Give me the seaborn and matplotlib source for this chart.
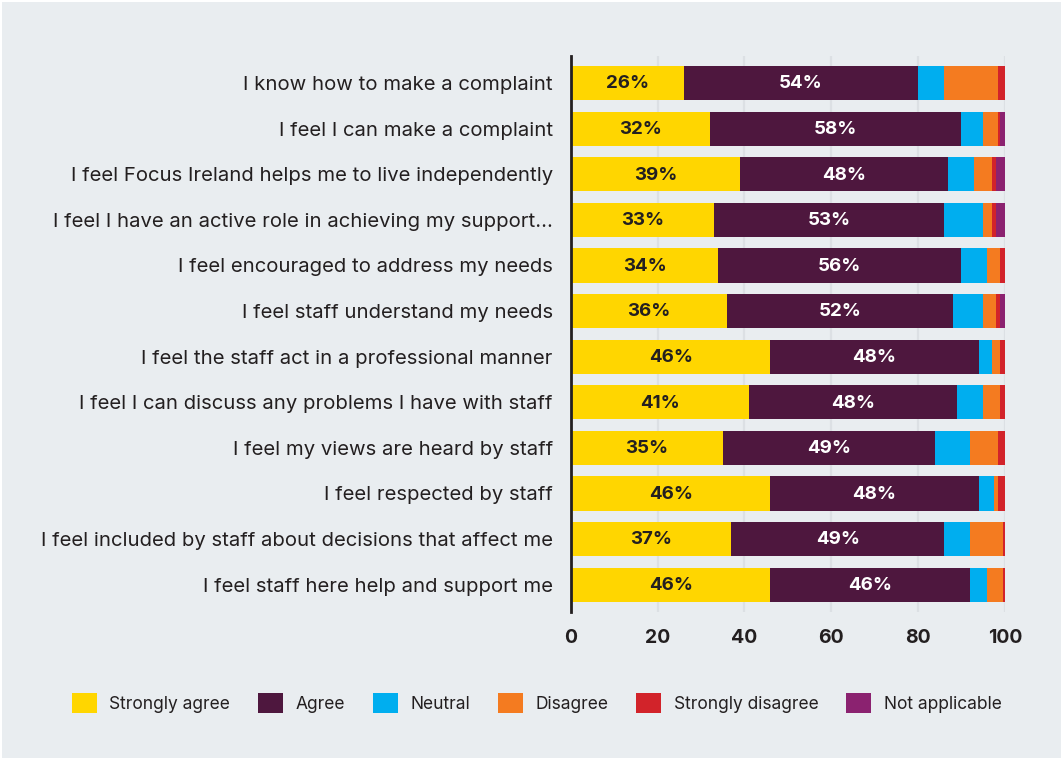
import matplotlib
matplotlib.use("Agg")
import matplotlib.pyplot as plt
from matplotlib.patches import Patch, Rectangle
import numpy as np
import pandas as pd
import seaborn as sns

# Survey statements (top to bottom)
statements = [
    "I know how to make a complaint",
    "I feel I can make a complaint",
    "I feel Focus Ireland helps me to live independently",
    "I feel I have an active role in achieving my support...",
    "I feel encouraged to address my needs",
    "I feel staff understand my needs",
    "I feel the staff act in a professional manner",
    "I feel I can discuss any problems I have with staff",
    "I feel my views are heard by staff",
    "I feel respected by staff",
    "I feel included by staff about decisions that affect me",
    "I feel staff here help and support me",
]

# Response shares (%)
strongly_agree = [26, 32, 39, 33, 34, 36, 46, 41, 35, 46, 37, 46]
agree = [54, 58, 48, 53, 56, 52, 48, 48, 49, 48, 49, 46]
neutral = [6, 5, 6, 9, 6, 7, 3, 6, 8, 3.5, 6, 4]
disagree = [12.5, 3.5, 4, 2, 3, 3, 2, 4, 6.5, 1, 7.5, 3.5]
strongly_disagree = [1.5, 0.5, 1, 1, 1, 1, 1, 1, 1.5, 1.5, 0.5, 0.5]
not_applicable = [0, 1, 2, 2, 0, 1, 0, 0, 0, 0, 0, 0]

series_names = ["Strongly agree", "Agree", "Neutral", "Disagree",
                "Strongly disagree", "Not applicable"]
series_values = [strongly_agree, agree, neutral, disagree,
                 strongly_disagree, not_applicable]
colors = ["#FFD600", "#4E173E", "#00AEEF", "#F47B20", "#D2232A", "#8B2270"]

bg = "#E9EDF0"
text_dark = "#231F20"

sns.set_theme(style="white")
plt.rcParams["font.family"] = ["Inter", "DejaVu Sans"]

fig = plt.figure(figsize=(10.61, 7.58), dpi=100, facecolor=bg)
ax = fig.add_axes([0.538, 0.1926, 0.409, 0.7339])
ax.set_facecolor(bg)

df = pd.DataFrame({"statement": statements})
for name, vals in zip(series_names, series_values):
    df[name] = vals
cum = df[series_names].cumsum(axis=1)

# Stacked bars: draw running totals from the outermost segment inwards
for name, col in reversed(list(zip(series_names, colors))):
    sns.barplot(x=cum[name], y=df["statement"], color=col, width=0.75,
                orient="h", ax=ax, saturation=1, linewidth=0, zorder=2)

# Percent labels on the two agree segments
for i in range(len(statements)):
    sa = strongly_agree[i]
    a = agree[i]
    ax.text(sa / 2, i + 0.02, f"{sa:.0f}%", ha="center", va="center",
            fontsize=13.5, fontweight="bold", color=text_dark, zorder=3)
    ax.text(sa + a / 2, i + 0.02, f"{a:.0f}%", ha="center", va="center",
            fontsize=13.5, fontweight="bold", color="white", zorder=3)

ax.set_xlim(0, 100)
ax.set_ylim(len(statements) - 0.4, -0.6)
ax.set_xticks([0, 20, 40, 60, 80, 100])
ax.set_xlabel("")
ax.set_ylabel("")
ax.xaxis.grid(True, color="#DCE0E4", linewidth=1.6, zorder=0)
ax.set_axisbelow(True)
ax.tick_params(axis="x", length=0, pad=12, labelsize=14, colors=text_dark)
ax.tick_params(axis="y", length=0, pad=13, labelsize=14.6, colors=text_dark)
for lbl in ax.get_xticklabels():
    lbl.set_fontweight("bold")
for s in ["top", "right", "bottom"]:
    ax.spines[s].set_visible(False)
ax.spines["left"].set_color(text_dark)
ax.spines["left"].set_linewidth(2)
ax.spines["left"].set_zorder(4)

handles = [Patch(facecolor=c, edgecolor="none", label=n)
           for n, c in zip(series_names, colors)]
fig.legend(handles=handles, loc="center", bbox_to_anchor=(0.506, 1 - 703 / 758),
           ncol=6, frameon=False, fontsize=12.5, handlelength=1.44,
           handleheight=1.44, handletextpad=0.7, columnspacing=1.62,
           labelcolor=text_dark)

# Thin light edge along the top and left of the card
fig.add_artist(Rectangle((0, 1 - 2 / 758), 1, 2 / 758, transform=fig.transFigure,
                         facecolor="white", edgecolor="none"))
fig.add_artist(Rectangle((0, 0), 2 / 1061, 1, transform=fig.transFigure,
                         facecolor="white", edgecolor="none"))

fig.savefig("out.png", dpi=100, facecolor=bg)
